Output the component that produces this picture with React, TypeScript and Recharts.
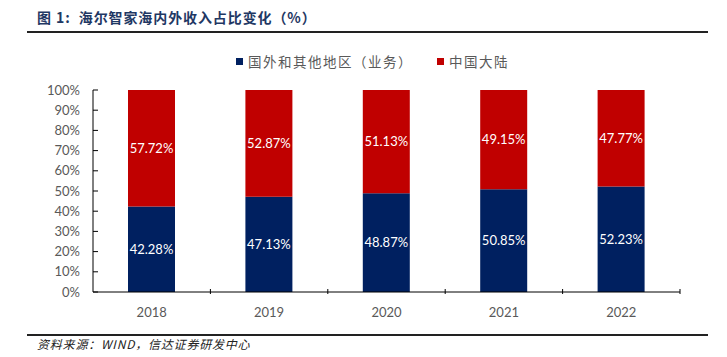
import React from 'react';
import { BarChart, Bar, XAxis, YAxis, Legend, LabelList } from 'recharts';

const years = ['2018', '2019', '2020', '2021', '2022'];
const overseas = [42.28, 47.13, 48.87, 50.85, 52.23];
const mainland = [57.72, 52.87, 51.13, 49.15, 47.77];
const yTicks = [0, 10, 20, 30, 40, 50, 60, 70, 80, 90, 100];
const seriesNames = ['国外和其他地区（业务）', '中国大陆'];
const colors = ['#002060', '#C00000'];

const data = years.map((y, i) => ({ year: y, overseas: overseas[i], mainland: mainland[i] }));

const FONT = 'Lato, "Liberation Sans", sans-serif';
const CJK = '"Noto Sans CJK SC", sans-serif';

const YTick = (props: any) => {
  const { x, y, payload } = props;
  return (
    <g>
      <line x1={x} x2={x + 5} y1={y} y2={y} stroke="#000" strokeWidth={1} />
      <text x={x - 13} y={y} dy={4.5} textAnchor="end" fill="#595959" fontSize={13} fontFamily={FONT}>
        {payload.value}%
      </text>
    </g>
  );
};

const XTick = (props: any) => {
  const { x, y, payload, index, visibleTicksCount } = props;
  const band = 587 / years.length;
  const axisY = y;
  return (
    <g>
      {index > 0 && <line x1={x - band / 2} x2={x - band / 2} y1={axisY - 5} y2={axisY} stroke="#000" strokeWidth={1} />}
      {index === (visibleTicksCount ?? years.length) - 1 && (
        <line x1={x + band / 2} x2={x + band / 2} y1={axisY - 5} y2={axisY} stroke="#000" strokeWidth={1} />
      )}
      <text x={x} y={axisY + 23} textAnchor="middle" fill="#595959" fontSize={13} fontFamily={FONT}>
        {payload.value}
      </text>
    </g>
  );
};

const LegendContent = () => (
  <div style={{ height: 40, display: 'flex', justifyContent: 'center', alignItems: 'flex-start', paddingLeft: 32 }}>
    {seriesNames.map((n, i) => (
      <div key={n} style={{ display: 'flex', alignItems: 'center', marginRight: i === 0 ? 24 : 0, height: 22 }}>
        <span style={{ width: 7, height: 7, background: colors[i], display: 'inline-block', marginRight: 5 }} />
        <span style={{ fontFamily: CJK, fontSize: 13.5, color: '#595959', letterSpacing: 1.5 }}>{n}</span>
      </div>
    ))}
  </div>
);

export default function App() {
  return (
    <div style={{ position: 'absolute', left: 0, top: 0, width: 727, height: 357, background: '#fff', overflow: 'hidden' }}>
      <div
        style={{
          position: 'absolute',
          left: 37,
          top: 6,
          fontFamily: CJK,
          fontWeight: 700,
          fontSize: 14,
          color: '#1F3864',
          whiteSpace: 'nowrap',
          lineHeight: '22px',
          letterSpacing: 0.9,
        }}
      >
        图 1:&nbsp;&nbsp;海尔智家海内外收入占比变化（%）
      </div>
      <div style={{ position: 'absolute', left: 27, top: 31, width: 681, height: 2, background: '#222' }} />
      <BarChart width={727} height={357} data={data} margin={{ top: 50, right: 47, left: 33, bottom: 35 }}>
        <Legend verticalAlign="top" content={<LegendContent />} />
        <XAxis
          dataKey="year"
          axisLine={{ stroke: '#000' }}
          tickLine={false}
          tick={<XTick />}
          height={30}
          tickSize={0}
        />
        <YAxis
          domain={[0, 100]}
          ticks={yTicks}
          width={60}
          axisLine={{ stroke: '#000' }}
          tickLine={false}
          tickSize={0}
          tickMargin={0}
          tick={<YTick />}
          interval={0}
        />
        <Bar dataKey="overseas" name={seriesNames[0]} stackId="a" fill={colors[0]} barSize={47} isAnimationActive={false}>
          <LabelList
            dataKey="overseas"
            position="center"
            fill="#fff"
            fontSize={13}
            fontFamily={FONT}
            formatter={(v: any) => `${Number(v).toFixed(2)}%`}
          />
        </Bar>
        <Bar dataKey="mainland" name={seriesNames[1]} stackId="a" fill={colors[1]} barSize={47} isAnimationActive={false}>
          <LabelList
            dataKey="mainland"
            position="center"
            fill="#fff"
            fontSize={13}
            fontFamily={FONT}
            formatter={(v: any) => `${Number(v).toFixed(2)}%`}
          />
        </Bar>
      </BarChart>
      <div style={{ position: 'absolute', left: 27, top: 334, width: 681, height: 1.5, background: '#222' }} />
      <div
        style={{
          position: 'absolute',
          left: 37,
          top: 335,
          fontFamily: CJK,
          fontStyle: 'italic',
          fontSize: 12,
          color: '#222',
          whiteSpace: 'nowrap',
          lineHeight: '18px',
          letterSpacing: 0.8,
        }}
      >
        资料来源：WIND，信达证券研发中心
      </div>
    </div>
  );
}
